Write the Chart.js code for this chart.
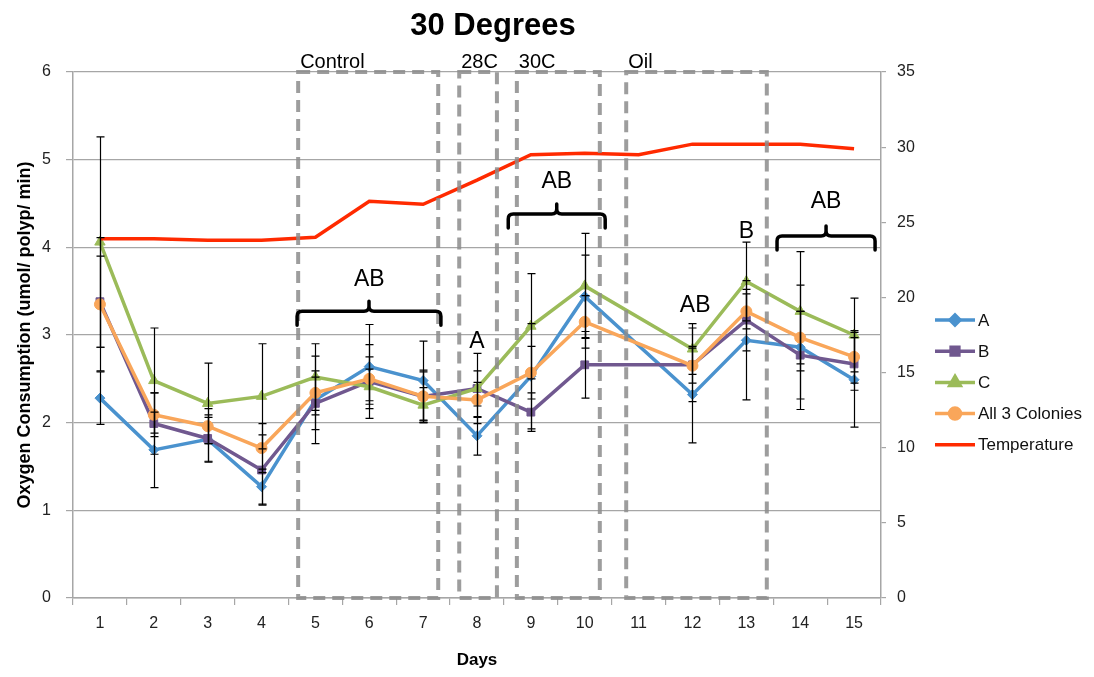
<!DOCTYPE html>
<html>
<head>
<meta charset="utf-8">
<title>30 Degrees</title>
<script src="https://cdn.jsdelivr.net/npm/chart.js"></script>
<style>
  body { margin: 0; background: #fff; }
  #wrap { width: 1094px; height: 677px; }
</style>
</head>
<body>
<div id="wrap"><canvas id="oxygen-chart" width="1094" height="677"></canvas></div>
<script>
'use strict';

// *************** GLOBALS (DATA)
let days = ['1', '2', '3', '4', '5', '6', '7', '8', '9', '10', '11', '12', '13', '14', '15'];

let colonyA = [2.28, 1.69, 1.81, 1.27, 2.26, 2.64, 2.48, 1.85, 2.53, 3.44, null, 2.32, 2.94, 2.86, 2.49];
let colonyB = [3.38, 1.99, 1.82, 1.46, 2.22, 2.47, 2.30, 2.39, 2.12, 2.66, null, 2.66, 3.17, 2.77, 2.67];
let colonyC = [4.06, 2.48, 2.22, 2.30, 2.52, 2.41, 2.20, 2.39, 3.10, 3.56, null, 2.84, 3.61, 3.27, 3.00];
let allColonies = [3.35, 2.09, 1.96, 1.71, 2.34, 2.50, 2.30, 2.26, 2.57, 3.15, null, 2.65, 3.27, 2.97, 2.75];
let temperature = [23.9, 23.9, 23.8, 23.8, 24.0, 26.4, 26.2, 27.8, 29.5, 29.6, 29.5, 30.2, 30.2, 30.2, 29.9];

// error bars (+/-)
let errA = [0.30, 0.43, 0.25, 0.20, 0.50, 0.48, 0.45, 0.22, 0.60, 0.47, null, 0.55, 0.68, 0.71, 0.54];
let errB = [0.52, 0.35, 0.27, 0.40, 0.30, 0.42, 0.30, 0.20, 0.22, 0.38, null, 0.42, 0.35, 0.50, 0.30];
let errC = [1.20, 0.60, 0.46, 0.60, 0.38, 0.20, 0.20, 0.40, 0.60, 0.60, null, 0.29, 0.45, 0.68, 0.42];
let errAll = [0.76, 0.25, 0.20, 0.28, 0.25, 0.25, 0.28, 0.20, 0.30, 0.30, null, 0.20, 0.20, 0.30, 0.30];

let leftTicks = [0, 1, 2, 3, 4, 5, 6];
let rightTicks = [0, 5, 10, 15, 20, 25, 30, 35];

// *************** ANNOTATIONS (treatment periods, significance groups)
let periods = [
  { label: 'Control', from: 4.68, to: 7.28 },
  { label: '28C', from: 7.67, to: 8.37 },
  { label: '30C', from: 8.74, to: 10.28 },
  { label: 'Oil', from: 10.77, to: 13.38 }
];

let braces = [
  { from: 4.66, to: 7.33, value: 3.27 },
  { from: 8.58, to: 10.38, value: 4.38 },
  { from: 13.57, to: 15.39, value: 4.13 }
];

let letters = [
  { text: 'AB', day: 6.0, value: 3.63 },
  { text: 'A', day: 8.0, value: 2.92 },
  { text: 'AB', day: 9.48, value: 4.75 },
  { text: 'AB', day: 12.05, value: 3.34 },
  { text: 'B', day: 13.0, value: 4.18 },
  { text: 'AB', day: 14.48, value: 4.52 }
];

// ****************** CANVAS ELEMENT FOR CHART ************
let ctx = document.getElementById('oxygen-chart');

const FONT = '"Liberation Sans", Arial, sans-serif';
const GRID = '#a6a6a6';

Chart.defaults.font.family = FONT;
Chart.defaults.font.size = 16;
Chart.defaults.color = '#222';

// ***************** HELPER FUNCTIONS
function dayToPixel(chart, day) {
  return chart.scales.x.getPixelForValue(day - 1);
}

function drawErrorBars(chart) {
  let c = chart.ctx;
  let xScale = chart.scales.x;
  let yScale = chart.scales.y;
  c.save();
  c.strokeStyle = '#000';
  c.lineWidth = 1.2;
  chart.data.datasets.forEach(function (ds) {
    if (!ds.errors) return;
    for (let i = 0; i < ds.data.length; i++) {
      let v = ds.data[i];
      let e = ds.errors[i];
      if (v === null || e === null) continue;
      let x = Math.round(xScale.getPixelForValue(i)) + 0.5;
      let yTop = yScale.getPixelForValue(v + e);
      let yBot = yScale.getPixelForValue(v - e);
      c.beginPath();
      c.moveTo(x, yTop);
      c.lineTo(x, yBot);
      c.moveTo(x - 4, yTop);
      c.lineTo(x + 4, yTop);
      c.moveTo(x - 4, yBot);
      c.lineTo(x + 4, yBot);
      c.stroke();
    }
  });
  c.restore();
}

function drawPeriods(chart) {
  let c = chart.ctx;
  let area = chart.chartArea;
  c.save();
  c.strokeStyle = 'rgba(140, 140, 140, 0.85)';
  c.lineWidth = 4;
  c.setLineDash([12, 7]);
  periods.forEach(function (p) {
    let x1 = dayToPixel(chart, p.from);
    let x2 = dayToPixel(chart, p.to);
    c.strokeRect(x1, area.top, x2 - x1, area.bottom - area.top);
  });
  c.setLineDash([]);
  c.fillStyle = '#000';
  c.font = '20px ' + FONT;
  c.textAlign = 'left';
  c.textBaseline = 'alphabetic';
  periods.forEach(function (p) {
    c.fillText(p.label, dayToPixel(chart, p.from) + 2, area.top - 4);
  });
  c.restore();
}

function drawBraces(chart) {
  let c = chart.ctx;
  let yScale = chart.scales.y;
  c.save();
  c.strokeStyle = '#000';
  c.lineWidth = 3.5;
  c.lineCap = 'round';
  c.lineJoin = 'round';
  braces.forEach(function (b) {
    let x1 = dayToPixel(chart, b.from);
    let x2 = dayToPixel(chart, b.to);
    let mid = (x1 + x2) / 2;
    let y = yScale.getPixelForValue(b.value);
    c.beginPath();
    c.moveTo(x1, y + 14);
    c.lineTo(x1, y + 5);
    c.quadraticCurveTo(x1, y, x1 + 5, y);
    c.lineTo(mid - 5, y);
    c.quadraticCurveTo(mid, y, mid, y - 5);
    c.lineTo(mid, y - 10);
    c.moveTo(mid, y - 5);
    c.quadraticCurveTo(mid, y, mid + 5, y);
    c.lineTo(x2 - 5, y);
    c.quadraticCurveTo(x2, y, x2, y + 5);
    c.lineTo(x2, y + 14);
    c.stroke();
  });
  c.fillStyle = '#000';
  c.font = '23px ' + FONT;
  c.textAlign = 'center';
  c.textBaseline = 'middle';
  letters.forEach(function (l) {
    c.fillText(l.text, dayToPixel(chart, l.day), yScale.getPixelForValue(l.value));
  });
  c.restore();
}

function drawTitle(chart) {
  let c = chart.ctx;
  c.save();
  c.fillStyle = '#000';
  c.font = 'bold 31px ' + FONT;
  c.textAlign = 'center';
  c.textBaseline = 'middle';
  c.fillText('30 Degrees', 493, 26);
  c.restore();
}

function drawLegend(chart) {
  let c = chart.ctx;
  let x0 = 935;
  let y0 = 320;
  c.save();
  c.font = '17px ' + FONT;
  c.textAlign = 'left';
  c.textBaseline = 'middle';
  chart.data.datasets.forEach(function (ds, i) {
    let y = y0 + i * 31.2;
    c.strokeStyle = ds.borderColor;
    c.lineWidth = 3.5;
    c.beginPath();
    c.moveTo(x0, y);
    c.lineTo(x0 + 40, y);
    c.stroke();
    if (ds.pointRadius > 0) {
      c.fillStyle = ds.borderColor;
      Chart.helpers.drawPoint(c, {
        pointStyle: ds.pointStyle,
        radius: ds.pointRadius,
        rotation: 0,
        borderWidth: 1
      }, x0 + 20, y);
    }
    c.fillStyle = '#111';
    c.fillText(ds.label, x0 + 43, y + 1);
  });
  c.restore();
}

// *********** PLUGIN FOR OVERLAYS ************
let overlayPlugin = {
  id: 'overlay',
  afterDatasetsDraw(chart) {
    drawErrorBars(chart);
    drawPeriods(chart);
    drawBraces(chart);
  },
  afterDraw(chart) {
    drawTitle(chart);
    drawLegend(chart);
  }
};

// *********** HELPER FUNCTION TO RENDER CHART ************
function makeSeries(label, data, errors, color, style, radius, order) {
  return {
    label: label,
    data: data,
    errors: errors,
    yAxisID: 'y',
    borderColor: color,
    backgroundColor: color,
    borderWidth: 3.5,
    pointStyle: style,
    pointRadius: radius,
    pointBorderWidth: 1,
    pointHoverRadius: radius,
    spanGaps: true,
    tension: 0,
    order: order
  };
}

function renderChart() {
  let chartObj = {
    type: 'line',
    data: {
      labels: days,
      datasets: [
        makeSeries('A', colonyA, errA, '#4a92ce', 'rectRot', 5, 5),
        makeSeries('B', colonyB, errB, '#70588f', 'rect', 5.5, 4),
        makeSeries('C', colonyC, errC, '#9bbb59', 'triangle', 6, 3),
        makeSeries('All 3 Colonies', allColonies, errAll, '#f9a65a', 'circle', 5.5, 2),
        {
          label: 'Temperature',
          data: temperature,
          yAxisID: 'y2',
          borderColor: '#ff2a00',
          backgroundColor: '#ff2a00',
          borderWidth: 3.5,
          pointRadius: 0,
          tension: 0,
          order: 1
        }
      ]
    },
    options: {
      responsive: false,
      animation: false,
      events: [],
      layout: { padding: { top: 72, right: 161, bottom: 0, left: 0 } },
      plugins: {
        legend: { display: false },
        title: { display: false },
        tooltip: { enabled: false }
      },
      scales: {
        x: {
          offset: true,
          grid: { offset: true, drawOnChartArea: false, tickLength: 7, color: GRID, lineWidth: 1.2 },
          border: { color: GRID, width: 1.5 },
          ticks: { padding: 9, font: { size: 16 }, maxRotation: 0 },
          title: { display: true, text: 'Days', font: { size: 17, weight: 'bold' }, color: '#000', padding: { top: 0, bottom: 6 } },
          afterFit(scale) { scale.height = 79; }
        },
        y: {
          position: 'left',
          min: leftTicks[0],
          max: leftTicks[leftTicks.length - 1],
          ticks: { stepSize: 1, padding: 15 },
          grid: { color: GRID, lineWidth: 1.2, tickLength: 7 },
          border: { color: GRID, width: 1.5 },
          title: {
            display: true,
            text: 'Oxygen Consumption (umol/ polyp/ min)',
            font: { size: 18, weight: 'bold' },
            color: '#000',
            padding: { top: 14, bottom: 0 }
          },
          afterFit(scale) { scale.width = 73; }
        },
        y2: {
          position: 'right',
          min: rightTicks[0],
          max: rightTicks[rightTicks.length - 1],
          ticks: { stepSize: 5, padding: 11 },
          grid: { drawOnChartArea: false, color: GRID, lineWidth: 1.2, tickLength: 5 },
          border: { color: GRID, width: 1.5 },
          afterFit(scale) { scale.width = 52; }
        }
      }
    },
    plugins: [overlayPlugin]
  };

  new Chart(ctx, chartObj); // eslint-disable-line
}

// **************** EXECUTABLE CODE
renderChart();
</script>
</body>
</html>
